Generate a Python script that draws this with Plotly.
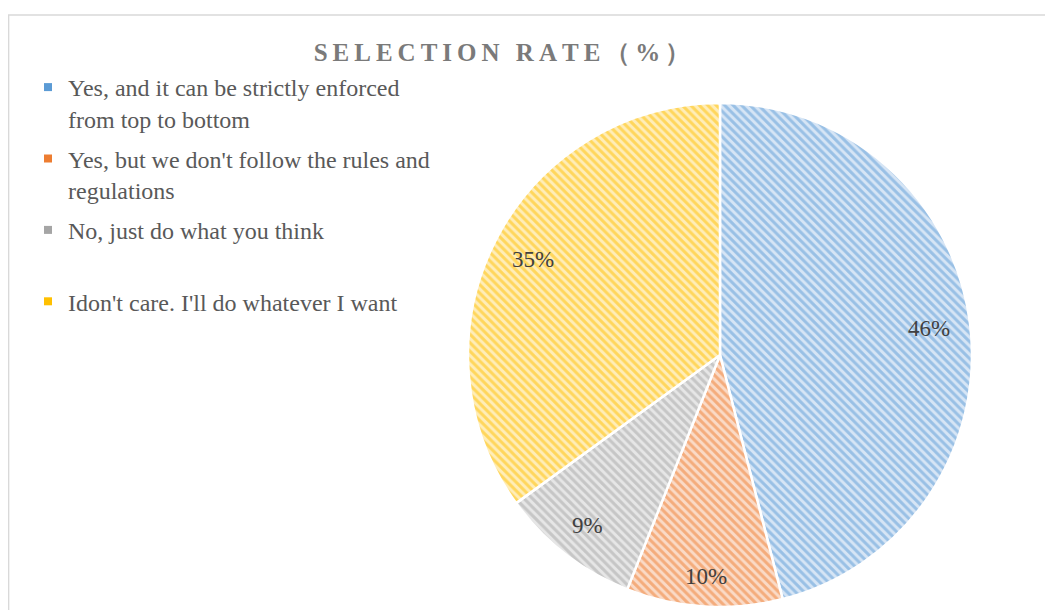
import math
import plotly.graph_objects as go

# ---- data ----
categories = [
    "Yes, and it can be strictly enforced<br>from top to bottom",
    "Yes, but we don't follow the rules and<br>regulations",
    "No, just do what you think<br>\u00a0",
    "Idon't care. I'll do whatever I want",
]
values = [46, 10, 9, 35]
title_text = "SELECTION RATE（%）"

strong_colors = ["#5B9BD5", "#ED7D31", "#A5A5A5", "#FFC000"]
light_colors = ["#D6E5F5", "#FADAC6", "#E6E6E6", "#FFEDB8"]

# page has an 8px body margin; work in figure pixels
OFF = 8
W, H = 1053 - OFF, 610 - OFF
cx_px, cy_px, r_px = 720 - OFF, 355 - OFF, 252
LABEL_FS = 23

fig = go.Figure()
fig.add_trace(go.Pie(
    labels=categories,
    values=values,
    sort=False,
    direction="clockwise",
    rotation=0,
    textinfo="none",
    showlegend=False,
    marker=dict(
        colors=light_colors,
        line=dict(color="white", width=2.5),
        pattern=dict(shape="\\", fgcolor=strong_colors, fillmode="overlay",
                     size=6, solidity=0.5),
    ),
    domain=dict(x=[(cx_px - r_px) / W, (cx_px + r_px) / W],
                y=[(H - cy_px - r_px) / H, (H - cy_px + r_px) / H]),
))

# legend entries (one per category, small square keys)
for i, (lab, col) in enumerate(zip(categories, strong_colors)):
    fig.add_trace(go.Scatter(
        x=[None], y=[None], mode="markers", name=lab,
        legendgroup=f"g{i}", showlegend=True,
        marker=dict(symbol="square", size=8, color=col),
        hoverinfo="skip",
    ))

# percentage labels "inside end": text box kept a fixed inset from the rim
total = sum(values)
cum = 0
annotations = []
inset = 19
for v in values:
    mid = (cum + v / 2) / total * 2 * math.pi
    cum += v
    txt = f"{v}%"
    half_w = len(txt) * 0.61 * LABEL_FS / 2
    half_h = 0.44 * LABEL_FS
    s, c = math.sin(mid), math.cos(mid)
    rr = r_px - inset - (abs(s) * half_w + abs(c) * half_h)
    x = (cx_px + rr * s) / W
    y = (H - cy_px + rr * c) / H
    annotations.append(dict(x=x, y=y, xref="paper", yref="paper", text=txt,
                            xanchor="center", yanchor="middle", showarrow=False,
                            font=dict(family="Liberation Serif", size=LABEL_FS,
                                      color="#404040")))

spaced_title = "\u2009".join(list(title_text))

fig.update_layout(
    width=W, height=H,
    margin=dict(l=0, r=0, t=0, b=0),
    paper_bgcolor="white",
    plot_bgcolor="white",
    xaxis=dict(visible=False),
    yaxis=dict(visible=False),
    title=dict(text="<b>" + spaced_title + "</b>", x=(502 - OFF) / W, xanchor="center",
               y=(H - (52 - OFF)) / H, yanchor="middle", xref="paper", yref="paper",
               font=dict(family="Liberation Serif", size=25, color="#7A7A7A")),
    legend=dict(x=20 / W, y=(H - 57) / H, xanchor="left", yanchor="top",
                valign="top", tracegroupgap=6,
                font=dict(family="Liberation Serif", size=24, color="#595959"),
                bgcolor="rgba(0,0,0,0)"),
    annotations=annotations,
    shapes=[dict(type="rect", xref="paper", yref="paper",
                 x0=0.6 / W, x1=1.05, y0=-0.05, y1=(H - 7) / H,
                 line=dict(color="#D9D9D9", width=1.5))],
)

fig.write_html("out.html")
